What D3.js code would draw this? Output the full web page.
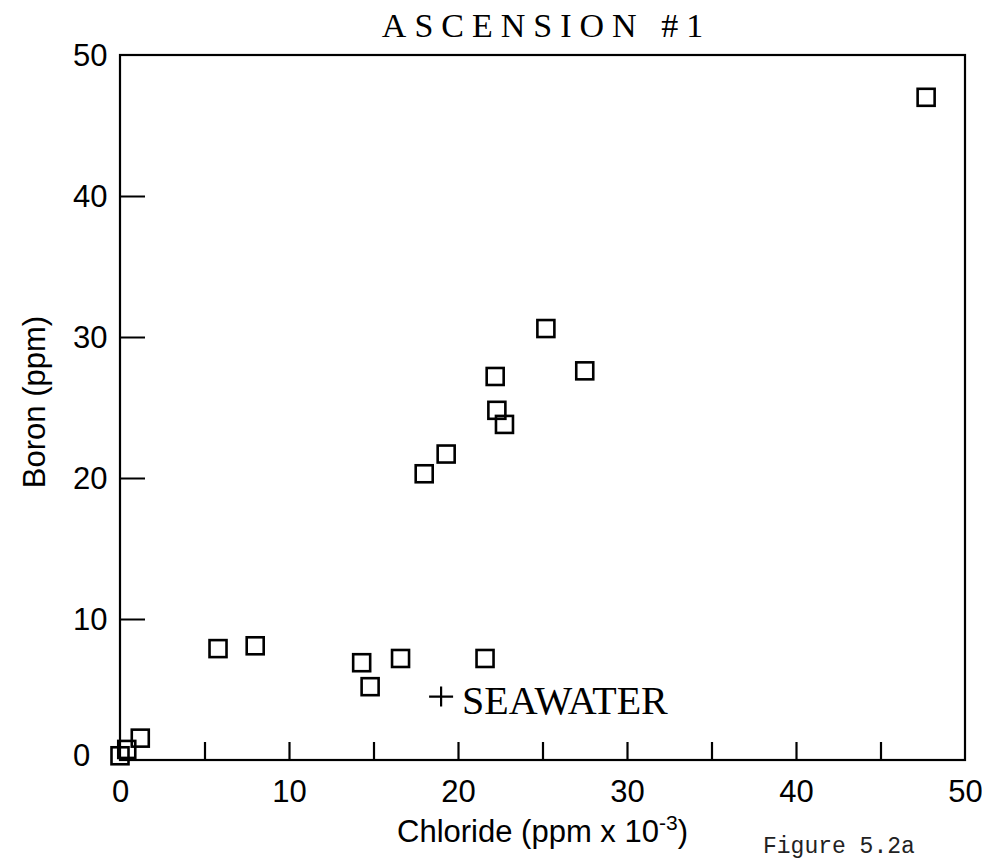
<!DOCTYPE html>
<html>
<head>
<meta charset="utf-8">
<script src="https://cdn.jsdelivr.net/npm/d3@7"></script>
<style>
  body { margin: 0; background: #fff; }
  .num { font-family: "Liberation Sans", Arial, sans-serif; font-size: 31px; fill: #000; }
</style>
</head>
<body>
<script>
// Ascension #1 - boron vs chloride scatter

// chloride in ppm x 10^-3, boron in ppm
var chloride = [0, 0.4, 1.2, 5.8, 8.0, 14.3, 14.8, 16.6, 21.6, 18.0, 19.3, 22.2, 22.3, 22.75, 25.2, 27.5, 47.7];
var boron    = [0.3, 0.75, 1.55, 7.9, 8.1, 6.9, 5.2, 7.2, 7.2, 20.3, 21.7, 27.2, 24.8, 23.8, 30.6, 27.6, 47.0];

var seawaterCl = [19.0];
var seawaterB  = [4.5];

var xLabelTicks = [0, 10, 20, 30, 40, 50];
var xMarkTicks  = [5, 10, 15, 20, 25, 30, 35, 40, 45];
var yLabelTicks = [0, 10, 20, 30, 40, 50];
var yMarkTicks  = [10, 20, 30, 40];

// note: "top" is taken by window.top, so plot edges get their own names
var canvasWidth = 982, canvasHeight = 859;
var plotLeft = 120, plotRight = 965, plotTop = 55, plotBottom = 760;

var svg = d3.select('body').append('svg')
    .attr('width', canvasWidth)
    .attr('height', canvasHeight);

var x = d3.scaleLinear().domain([0, 50]).range([plotLeft, plotRight]);
var y = d3.scaleLinear().domain([0, 50]).range([plotBottom, plotTop]);

// frame
svg.append('rect')
    .attr('x', x(0)).attr('y', y(50))
    .attr('width', x(50) - x(0)).attr('height', y(0) - y(50))
    .attr('fill', 'none').attr('stroke', '#000').attr('stroke-width', 2.2);

// inward ticks on the bottom
var xTicks = svg.append('g')
    .attr('transform', `translate(0, ${y(0)})`)
    .call(d3.axisBottom(x).tickValues(xMarkTicks).tickSize(-18).tickFormat(''));
xTicks.select('.domain').remove();
xTicks.selectAll('line').attr('stroke', '#000').attr('stroke-width', 2.2);

// inward ticks on the left
var yTicks = svg.append('g')
    .attr('transform', `translate(${x(0)}, 0)`)
    .call(d3.axisLeft(y).tickValues(yMarkTicks).tickSize(-25).tickFormat(''));
yTicks.select('.domain').remove();
yTicks.selectAll('line').attr('stroke', '#000').attr('stroke-width', 2);

// x tick labels
var xLab = svg.append('g')
    .attr('transform', `translate(0, ${y(0)})`)
    .call(d3.axisBottom(x).tickValues(xLabelTicks).tickSize(0).tickFormat(d3.format('d')));
xLab.select('.domain').remove();
xLab.attr('font-size', null).attr('font-family', null);
xLab.selectAll('text')
    .attr('class', 'num')
    .attr('dy', null)
    .attr('y', 42);

// y tick labels, left aligned like the original
var yLab = svg.append('g')
    .attr('transform', `translate(${x(0)}, 0)`)
    .call(d3.axisLeft(y).tickValues(yLabelTicks).tickSize(0).tickFormat(d3.format('d')));
yLab.select('.domain').remove();
yLab.attr('font-size', null).attr('font-family', null);
yLab.selectAll('text')
    .attr('class', 'num')
    .attr('text-anchor', 'start')
    .attr('x', 73 - x(0))
    .attr('dy', null)
    .attr('y', function(d){ return d === 0 ? 5 : 10; });

// title, wide letter spacing
svg.append('text')
    .attr('x', (plotLeft + plotRight) / 2 + 4)
    .attr('y', 37)
    .attr('text-anchor', 'middle')
    .style('font-family', '"Liberation Serif", "Times New Roman", serif')
    .style('font-size', '34px')
    .style('letter-spacing', '8px')
    .text('ASCENSION #1');

// axis titles
var xTitle = svg.append('text')
    .attr('class', 'num')
    .attr('x', (plotLeft + plotRight) / 2)
    .attr('y', 842)
    .attr('text-anchor', 'middle');
xTitle.append('tspan').text('Chloride (ppm x 10');
xTitle.append('tspan').attr('dy', -12).style('font-size', '21px').text('-3');
xTitle.append('tspan').attr('dy', 12).text(')');

svg.append('text')
    .attr('class', 'num')
    .attr('transform', 'translate(45, 402) rotate(-90)')
    .attr('text-anchor', 'middle')
    .text('Boron (ppm)');

// data points
svg.append('g').selectAll('rect')
    .data(chloride.map(function(c, i){ return [c, boron[i]]; }))
    .join('rect')
    .attr('x', function(d){ return x(d[0]) - 8.5; })
    .attr('y', function(d){ return y(d[1]) - 8.5; })
    .attr('width', 17).attr('height', 17)
    .attr('fill', 'none')
    .attr('stroke', '#000')
    .attr('stroke-width', 2.6);

// seawater
var sea = svg.append('g').selectAll('g')
    .data(seawaterCl.map(function(c, i){ return [c, seawaterB[i]]; }))
    .join('g')
    .attr('transform', function(d){ return `translate(${x(d[0])}, ${y(d[1])})`; });
sea.append('path')
    .attr('d', 'M-12,0H12M0,-10V10')
    .attr('stroke', '#000').attr('stroke-width', 2.2);
sea.append('text')
    .attr('x', 21).attr('y', 17)
    .style('font-family', '"Liberation Serif", "Times New Roman", serif')
    .style('font-size', '40px')
    .text('SEAWATER');

// figure number
svg.append('text')
    .attr('x', 763).attr('y', 853)
    .style('font-family', '"Liberation Mono", "Courier New", monospace')
    .style('font-size', '23px')
    .style('fill', '#222')
    .text('Figure 5.2a');
</script>
</body>
</html>
